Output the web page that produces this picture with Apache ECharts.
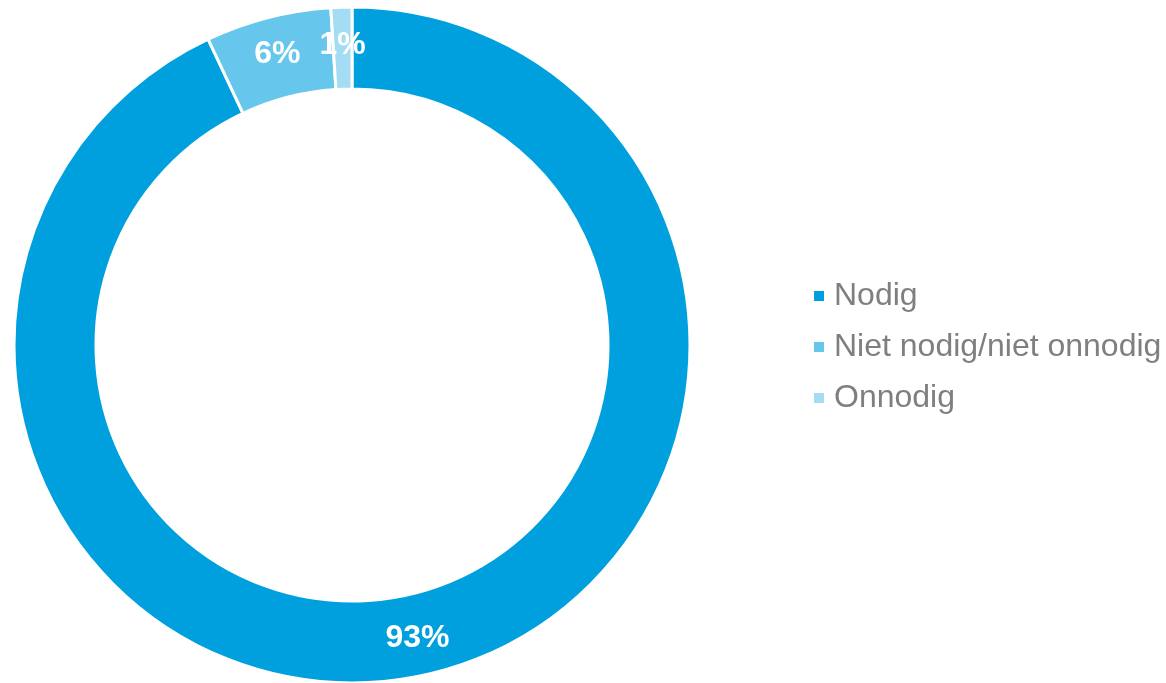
<!DOCTYPE html>
<html>
<head>
<meta charset="utf-8">
<script src="https://cdn.jsdelivr.net/npm/echarts@6/dist/echarts.min.js"></script>
<style>
html,body{margin:0;padding:0;background:#fff;}
#chart{width:1166px;height:683px;}
</style>
</head>
<body>
<div id="chart"></div>
<script>
const categories = ['Nodig', 'Niet nodig/niet onnodig', 'Onnodig'];
const values = [93, 6, 1];
const colors = ['#00A0DF', '#66C6EC', '#A3DCF3'];

const chart = echarts.init(document.getElementById('chart'));
chart.setOption({
  animation: false,
  color: colors,
  legend: {
    orient: 'vertical',
    left: 807,
    top: 275,
    itemWidth: 12,
    itemHeight: 12,
    itemGap: 19,
    icon: 'rect',
    data: categories,
    textStyle: {
      fontFamily: 'Liberation Sans, Arial, sans-serif',
      fontSize: 32,
      color: '#7F7F7F',
      padding: [0, 0, 0, 4]
    }
  },
  series: [{
    type: 'pie',
    center: [352, 345],
    radius: [256, 338],
    startAngle: 90,
    clockwise: true,
    avoidLabelOverlap: false,
    itemStyle: { borderColor: '#fff', borderWidth: 3 },
    label: {
      show: true,
      position: 'inside',
      formatter: '{c}%',
      color: '#fff',
      fontWeight: 'bold',
      fontSize: 32,
      fontFamily: 'Liberation Sans, Arial, sans-serif'
    },
    labelLine: { show: false },
    emphasis: { disabled: true },
    data: categories.map((c, i) => ({ name: c, value: values[i] }))
  }]
});
</script>
</body>
</html>
